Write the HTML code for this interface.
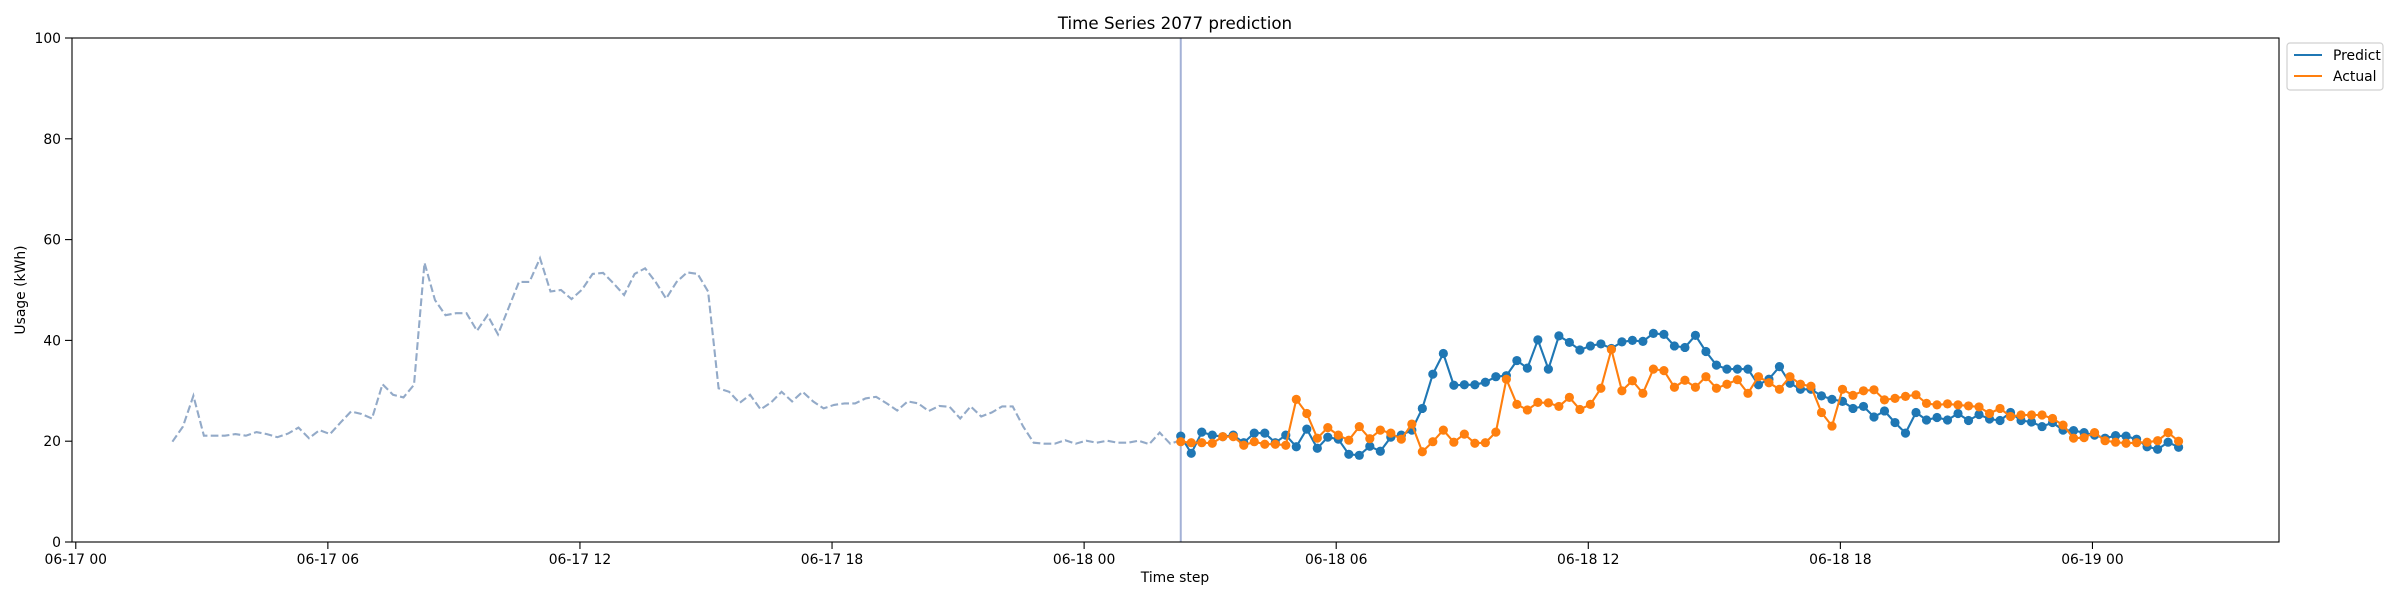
<!DOCTYPE html>
<html><head><meta charset="utf-8"><style>
html,body{margin:0;padding:0;background:#fff;}
svg{display:block;font-family:"DejaVu Sans","Liberation Sans",sans-serif;}
</style></head><body>
<svg id="chart" width="2400" height="600" viewBox="0 0 2400 600">
<rect width="2400" height="600" fill="#fff"/>
<text x="1175" y="29" font-size="16.7" text-anchor="middle" fill="#000">Time Series 2077 prediction</text>
<text x="1175" y="582" font-size="13.9" text-anchor="middle" fill="#000">Time step</text>
<text x="0" y="0" font-size="13.9" text-anchor="middle" fill="#000" transform="translate(25,290) rotate(-90)">Usage (kWh)</text>
<g id="plot"></g>
<g id="legend">
<rect x="2287" y="43" width="96" height="47" rx="3" fill="#fff" stroke="#d0d0d0" stroke-width="1.2"/>
<g>
<line x1="2294" y1="55" x2="2322" y2="55" stroke="#1f77b4" stroke-width="2.1"/>
<text x="2333" y="60" font-size="13.9" fill="#000">Predict</text>
</g>
<g>
<line x1="2294" y1="76" x2="2322" y2="76" stroke="#ff7f0e" stroke-width="2.1"/>
<text x="2333" y="81" font-size="13.9" fill="#000">Actual</text>
</g>
</g>
</svg>
<script>
// ---- data ----
const historyStartHour = 2.3;
const stepHours = 0.25;
const forecastStartHour = 26.3;
const historyValues = [19.9,22.9,29.0,21.1,21.1,21.1,21.4,21.1,21.8,21.4,20.8,21.5,22.7,20.6,22.2,21.4,23.7,25.9,25.4,24.5,31.3,29.2,28.7,31.2,55.4,48.0,45.0,45.4,45.4,41.9,45.0,41.2,46.4,51.6,51.6,56.3,49.7,50.0,48.2,50.1,53.2,53.4,51.3,49.0,53.2,54.3,51.6,48.3,51.6,53.5,53.2,49.7,30.5,29.8,27.6,29.2,26.3,27.7,29.8,27.9,29.8,27.9,26.5,27.2,27.5,27.5,28.5,28.8,27.5,26.1,27.9,27.5,26.0,27.0,26.8,24.5,26.9,24.9,25.7,26.9,26.9,22.9,19.7,19.5,19.5,20.2,19.5,20.1,19.7,20.1,19.7,19.7,20.1,19.4,21.7,19.5,20.2];
const predictValues = [21.0,17.6,21.8,21.2,20.9,21.2,19.7,21.6,21.6,19.7,21.2,18.9,22.4,18.6,20.8,20.4,17.4,17.2,19.0,18.0,20.8,21.2,22.2,26.5,33.3,37.4,31.1,31.2,31.2,31.7,32.8,33.0,36.0,34.5,40.1,34.3,40.9,39.6,38.1,38.9,39.3,38.4,39.7,40.0,39.8,41.4,41.2,38.9,38.6,41.0,37.8,35.1,34.3,34.3,34.3,31.2,32.3,34.8,31.5,30.3,30.3,29.0,28.3,27.9,26.5,26.9,24.8,26.0,23.7,21.6,25.7,24.2,24.7,24.2,25.5,24.1,25.3,24.4,24.1,25.7,24.1,23.8,22.9,23.7,22.2,22.1,21.7,21.2,20.6,21.1,21.0,20.4,18.9,18.4,19.8,18.8];
const actualValues = [19.9,19.7,19.7,19.6,20.9,20.9,19.2,19.9,19.4,19.4,19.2,28.3,25.5,20.6,22.7,21.2,20.2,22.9,20.5,22.2,21.6,20.4,23.4,17.9,19.9,22.2,19.8,21.4,19.6,19.7,21.8,32.3,27.3,26.2,27.7,27.6,26.9,28.7,26.3,27.3,30.5,38.2,30.0,32.0,29.5,34.3,34.0,30.7,32.1,30.7,32.8,30.5,31.3,32.2,29.5,32.8,31.6,30.3,32.8,31.3,30.9,25.7,23.0,30.3,29.1,30.0,30.2,28.2,28.5,28.9,29.2,27.5,27.2,27.4,27.2,27.0,26.8,25.5,26.5,24.9,25.2,25.2,25.2,24.5,23.2,20.6,20.7,21.7,20.1,19.8,19.6,19.7,19.8,20.1,21.7,20.0];
const yTicks = [0,20,40,60,80,100];
const xTickHours = [0,6,12,18,24,30,36,42,48];
const xTickLabels = ["06-17 00","06-17 06","06-17 12","06-17 18","06-18 00","06-18 06","06-18 12","06-18 18","06-19 00"];

// ---- axes ----
const L=72,R=2279,T=38,B=542;
const xMin=-0.09,xMax=52.44,yMin=0,yMax=100;
const xs=h=>L+(h-xMin)/(xMax-xMin)*(R-L);
const ys=v=>B-(v-yMin)/(yMax-yMin)*(B-T);
const NS="http://www.w3.org/2000/svg";
const plot=document.getElementById('plot');
function mk(tag,attrs,parent){const e=document.createElementNS(NS,tag);for(const k in attrs)e.setAttribute(k,attrs[k]);(parent||plot).appendChild(e);return e;}

// y ticks
yTicks.forEach(v=>{
  const t=mk('line',{x1:L-7,x2:L,y1:ys(v),y2:ys(v),stroke:'#000','stroke-width':1.1});
  
  
  const lb=mk('text',{x:L-11,y:ys(v)+5,'font-size':13.9,'text-anchor':'end',fill:'#000'});
  lb.textContent=v;
  
  
});
// x ticks
xTickHours.forEach((h,i)=>{
  const t=mk('line',{x1:xs(h),x2:xs(h),y1:B,y2:B+7,stroke:'#000','stroke-width':1.1});
  
  
  const lb=mk('text',{x:xs(h),y:B+22,'font-size':13.9,'text-anchor':'middle',fill:'#000'});
  lb.textContent=xTickLabels[i];
  
  
});

// history dashed line
const hp=historyValues.map((v,i)=>xs(historyStartHour+i*stepHours).toFixed(1)+','+ys(v).toFixed(1)).join(' ');
const hl=mk('polyline',{points:hp,fill:'none',stroke:'#93aac8','stroke-width':2.1,'stroke-dasharray':'7.7,3.3'});



// forecast start vertical line
const vl=mk('line',{x1:xs(forecastStartHour),x2:xs(forecastStartHour),y1:T,y2:B,stroke:'#a3b1d6','stroke-width':2});



function series(vals,color,name){
  const g=mk('g',{});
  
  
  const pts=vals.map((v,i)=>xs(forecastStartHour+i*stepHours).toFixed(1)+','+ys(v).toFixed(1)).join(' ');
  const pl=mk('polyline',{points:pts,fill:'none',stroke:color,'stroke-width':2.1},g);
  
  
  vals.forEach((v,i)=>{
    const c=mk('circle',{cx:xs(forecastStartHour+i*stepHours),cy:ys(v),r:4.6,fill:color},g);
    
    
  });
}
series(predictValues,'#1f77b4','predict');
series(actualValues,'#ff7f0e','actual');

// frame
const fr=mk('rect',{x:L,y:T,width:R-L,height:B-T,fill:'none',stroke:'#000','stroke-width':1.1});


</script>
</body></html>
